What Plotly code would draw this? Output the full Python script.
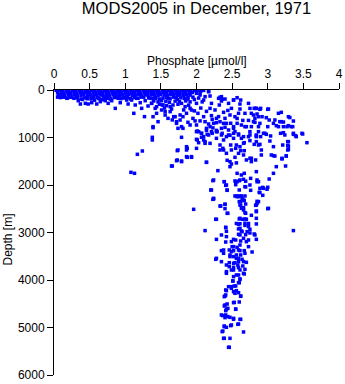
import plotly.graph_objects as go

# Phosphate (umol/l) vs depth (m) profile, MODS2005, December 1971.
# Each list holds (phosphate, depth) observations for one depth layer.

surface_row0 = [
    (0.03, 5), (0.08, 12), (0.12, 3), (0.17, 10), (0.21, 6), (0.26, 15), (0.30, 4),
    (0.35, 9), (0.39, 18), (0.44, 2), (0.48, 11), (0.53, 7), (0.57, 14), (0.62, 3),
    (0.66, 9), (0.71, 16), (0.75, 5), (0.80, 12), (0.84, 2), (0.89, 8), (0.93, 15),
    (0.98, 6), (1.02, 10), (1.07, 3), (1.11, 13), (1.16, 7), (1.20, 18), (1.25, 4),
    (1.29, 9), (1.34, 12), (1.38, 5), (1.43, 16), (1.47, 8), (1.52, 3), (1.56, 11),
    (1.61, 6), (1.65, 14), (1.70, 2), (1.74, 10), (1.79, 7), (1.83, 13), (1.88, 4),
    (1.92, 9), (1.97, 15), (2.01, 5), (2.06, 20), (2.10, 8), (2.17, 30),
]

surface_row1 = [
    (0.05, 55), (0.10, 48), (0.14, 62), (0.19, 50), (0.23, 58), (0.28, 45), (0.32, 66),
    (0.37, 52), (0.41, 60), (0.46, 47), (0.50, 64), (0.55, 55), (0.59, 50), (0.64, 68),
    (0.68, 53), (0.73, 46), (0.77, 61), (0.82, 57), (0.86, 49), (0.91, 65), (0.95, 52),
    (1.00, 60), (1.04, 48), (1.09, 63), (1.13, 54), (1.18, 50), (1.22, 67), (1.27, 56),
    (1.31, 46), (1.36, 62), (1.40, 51), (1.45, 58), (1.49, 64), (1.54, 49), (1.58, 55),
    (1.63, 61), (1.67, 47), (1.72, 66), (1.76, 52), (1.81, 58), (1.85, 45), (1.90, 63),
    (1.94, 54), (2.00, 70), (2.05, 60),
]

surface_row2 = [
    (0.06, 100), (0.11, 95), (0.15, 108), (0.20, 92), (0.24, 112), (0.29, 98), (0.33, 105),
    (0.38, 118), (0.42, 96), (0.47, 110), (0.51, 102), (0.56, 120), (0.60, 94), (0.65, 107),
    (0.69, 115), (0.74, 99), (0.78, 112), (0.83, 104), (0.87, 95), (0.92, 118), (0.96, 101),
    (1.01, 109), (1.05, 97), (1.10, 114), (1.14, 103), (1.19, 96), (1.23, 111), (1.28, 100),
    (1.32, 117), (1.37, 95), (1.41, 106), (1.46, 113), (1.50, 98), (1.55, 108), (1.59, 119),
    (1.64, 101), (1.68, 94), (1.73, 110), (1.77, 104), (1.82, 116), (1.86, 99), (1.91, 108),
]

surface_row3 = [
    (0.05, 150), (0.09, 160), (0.14, 145), (0.19, 168), (0.24, 152), (0.28, 175),
    (0.33, 158), (0.38, 190), (0.43, 165), (0.47, 185), (0.52, 150), (0.56, 178),
    (0.61, 160), (0.66, 195), (0.70, 155), (0.75, 172), (0.80, 188), (0.85, 160),
    (0.89, 150), (0.94, 182), (0.99, 165), (1.03, 155), (1.08, 190), (1.13, 160),
    (1.18, 175), (1.22, 150), (1.33, 165), (1.38, 180), (1.43, 155), (1.48, 190),
    (1.53, 170), (1.58, 160), (1.63, 185), (1.68, 150), (1.73, 200), (1.78, 165),
    (1.83, 180), (1.88, 155), (1.40, 230), (1.46, 250), (1.51, 225), (1.57, 240),
    (1.62, 260), (1.70, 235), (1.76, 245), (1.85, 230), (1.91, 250),
]

surface_row4 = [
    (0.08, 140), (0.13, 150), (0.18, 175), (0.22, 145), (0.25, 154), (0.31, 160),
    (0.34, 225), (0.37, 295), (0.40, 200), (0.44, 281), (0.46, 170), (0.48, 295),
    (0.52, 190), (0.53, 267), (0.57, 215), (0.60, 295), (0.63, 180), (0.65, 245),
    (0.68, 205), (0.72, 225), (0.74, 160), (0.76, 281), (0.79, 190), (0.81, 225),
    (0.86, 386), (0.88, 150), (0.90, 175), (0.93, 267), (0.97, 165), (1.02, 211),
    (1.04, 295), (1.07, 180), (1.09, 211), (1.14, 316), (1.16, 175), (1.21, 267),
    (1.23, 386), (1.26, 150), (1.28, 225), (1.32, 337), (1.35, 170), (1.37, 281),
    (1.42, 386), (1.44, 491), (1.12, 491), (1.27, 561), (1.39, 176), (1.42, 176),
    (1.48, 200), (1.52, 316), (1.53, 316), (1.56, 455), (1.60, 180), (1.63, 351),
    (1.67, 316), (1.68, 561), (1.72, 160), (1.77, 526), (1.79, 281), (1.84, 351),
    (1.88, 190), (1.93, 421), (1.95, 150), (2.00, 281), (2.05, 105), (2.10, 211),
    (2.12, 140), (2.17, 35), (2.21, 281), (2.19, 386), (1.97, 200), (2.03, 170),
    (2.08, 250), (1.48, 300), (1.58, 330), (1.74, 300), (1.89, 320),
]

upper_layer = [
    (2.31, 176), (2.35, 140), (2.35, 232), (2.40, 190), (2.32, 316), (2.45, 281),
    (2.52, 211), (2.57, 162), (2.62, 211), (2.49, 386), (2.61, 400), (2.73, 281),
    (2.75, 386), (2.84, 386), (2.68, 491), (2.80, 527), (2.87, 562), (2.47, 527),
    (2.54, 562), (2.59, 491), (2.40, 597), (2.33, 667), (2.42, 702), (2.28, 597),
    (2.21, 540), (2.24, 702), (2.19, 772), (2.12, 667), (2.14, 807), (2.10, 562),
    (2.02, 491), (1.95, 597), (1.91, 386), (1.86, 491), (1.81, 562), (1.77, 632),
    (1.72, 667), (1.70, 562), (1.63, 456), (1.60, 597), (1.56, 527), (1.51, 421),
    (1.44, 351), (1.39, 562), (1.46, 667), (1.37, 281), (1.74, 807), (1.81, 807),
    (1.91, 737), (2.00, 737), (2.03, 877), (2.07, 912), (2.28, 877), (2.35, 807),
    (2.45, 842), (2.52, 807), (2.63, 737), (2.70, 772), (2.80, 667), (2.75, 877),
    (2.54, 877), (2.36, 196), (2.33, 154), (2.19, 126), (2.52, 210), (2.61, 295),
    (2.77, 491), (2.81, 386), (2.90, 386), (3.01, 400), (3.15, 491), (3.19, 470),
    (3.29, 562), (3.31, 580), (2.82, 596), (2.92, 562), (2.98, 583), (3.10, 632),
    (3.17, 667), (3.22, 675), (3.36, 653), (2.82, 681), (2.77, 772), (2.87, 772),
    (3.12, 751), (3.22, 772), (3.29, 751), (3.35, 772), (3.00, 772), (2.89, 702),
    (3.08, 702), (3.19, 667), (3.02, 632), (2.85, 505), (3.00, 407), (2.89, 407),
    (2.83, 386), (1.39, 772), (1.72, 702), (1.79, 772), (1.66, 630), (1.98, 650),
    (2.17, 716), (2.28, 688), (2.38, 702), (2.40, 786), (2.52, 772), (2.57, 702),
    (2.68, 772), (1.55, 380), (1.65, 400), (1.82, 420), (1.97, 440), (2.06, 380),
    (2.14, 450), (2.26, 420), (2.38, 470), (2.44, 430), (2.57, 600), (2.65, 640),
    (2.22, 620), (2.31, 560), (2.05, 650), (1.88, 680), (2.48, 700), (2.73, 640),
]

mid_layer = [
    (1.39, 793), (1.38, 996), (1.38, 1052), (1.17, 1354), (1.24, 1284), (1.08, 1733),
    (1.13, 1754), (1.79, 996), (2.00, 877), (2.00, 1038), (2.03, 1109), (2.07, 912),
    (2.10, 982), (2.17, 947), (2.21, 877), (2.12, 1123), (2.19, 1123), (2.28, 1017),
    (2.35, 947), (2.38, 1052), (2.33, 1158), (2.38, 1263), (2.45, 947), (2.52, 1017),
    (2.59, 947), (2.63, 1017), (2.66, 1123), (2.56, 1158), (2.49, 1263), (2.61, 1193),
    (2.73, 982), (2.84, 968), (2.87, 1158), (2.75, 1438), (2.70, 1473), (2.77, 1508),
    (2.66, 1368), (2.59, 1333), (2.54, 1417), (2.47, 1508), (2.49, 1558), (2.43, 1480),
    (2.56, 1535), (1.86, 1263), (1.86, 1193), (1.74, 1263), (1.72, 1488), (1.79, 1508),
    (1.65, 1600), (1.86, 1403), (1.93, 1403), (2.14, 1522), (2.30, 1698), (2.24, 1894),
    (2.21, 2105), (2.39, 1930), (2.42, 2000), (2.57, 1754), (2.63, 1789), (2.55, 1930),
    (2.61, 1894), (2.66, 1880), (2.57, 1930), (2.68, 2035), (2.75, 2000), (2.84, 1719),
    (2.85, 1894), (2.89, 2070), (2.57, 2245), (2.63, 2230), (2.24, 2280), (2.43, 2105),
    (2.67, 1109), (2.67, 1277), (2.62, 1277), (2.55, 1228), (2.48, 1158), (2.37, 1228),
    (2.83, 1473), (2.47, 1614), (2.67, 1754), (2.76, 1860), (2.87, 1930), (2.94, 2070),
    (3.00, 2048), (2.89, 2161), (3.02, 1874), (3.08, 1754), (3.25, 1600), (3.20, 1452),
    (3.26, 1389), (3.12, 1614), (3.08, 1382), (3.28, 1087), (3.28, 1172), (3.28, 1263),
    (3.39, 961), (3.48, 912), (3.55, 1109), (3.36, 912), (3.22, 898), (3.27, 772),
    (3.33, 772), (3.15, 772), (2.94, 912), (2.98, 933), (2.84, 982), (2.90, 982),
    (3.18, 912), (3.24, 947), (3.36, 933), (3.40, 982), (3.49, 926), (3.03, 1074),
    (3.29, 1088), (2.81, 1144), (2.89, 1144), (3.08, 1193), (3.21, 1158), (3.29, 1180),
    (3.29, 1249), (2.91, 1263), (3.05, 1368), (3.10, 1390), (3.20, 1438), (3.26, 1389),
    (2.91, 1368), (2.77, 1438), (2.66, 982), (2.75, 947), (2.84, 947), (2.87, 877),
    (2.96, 912), (3.04, 968), (2.84, 1087), (2.75, 1066), (2.52, 912), (2.59, 926),
    (2.42, 982), (2.47, 954), (2.36, 912), (2.29, 877), (2.22, 912), (2.15, 933),
    (2.23, 797), (2.14, 850), (2.28, 850), (2.07, 996), (2.10, 1052), (2.12, 1087),
    (2.33, 1263), (2.42, 1333), (1.73, 1277), (1.73, 1473), (1.87, 1228), (1.87, 1417),
    (1.93, 1417), (1.79, 1495), (1.66, 1600), (2.14, 1523), (2.00, 1228), (2.01, 1052),
    (2.01, 863),
]

deep_layer = [
    (2.23, 1909), (2.39, 1930), (2.54, 1915), (2.60, 1910), (2.69, 1920), (2.85, 1930),
    (2.41, 2007), (2.55, 1993), (2.69, 2040), (2.93, 2050), (2.99, 2090), (2.20, 2105),
    (2.43, 2112), (2.60, 2105), (2.76, 2112), (2.88, 2154), (2.93, 2217), (2.56, 2231),
    (2.60, 2231), (2.68, 2231), (2.23, 2302), (2.64, 2287), (2.60, 2350), (2.67, 2330),
    (2.85, 2344), (2.85, 2386), (2.34, 2442), (2.40, 2407), (2.62, 2428), (2.69, 2400),
    (2.83, 2428), (1.96, 2512), (2.40, 2498), (3.00, 2498), (2.63, 2491), (2.66, 2526),
    (2.69, 2596), (2.43, 2596), (2.84, 2561), (2.77, 2638), (2.28, 2722), (2.60, 2715),
    (2.65, 2722), (2.70, 2722), (2.84, 2701), (2.84, 2820), (2.41, 2890), (2.56, 2810),
    (2.61, 2815), (2.68, 2805), (2.73, 2810), (2.12, 2960), (3.36, 2960), (2.42, 2975),
    (2.59, 2925), (2.63, 2968), (2.71, 2982), (2.75, 2933), (2.69, 3045), (2.59, 3038),
    (2.81, 3031), (2.35, 3052), (2.42, 3087), (2.52, 3144), (2.55, 3158), (2.66, 3122),
    (2.73, 3158), (2.84, 3144), (2.28, 3144), (2.41, 3200), (2.62, 3179), (2.70, 3193),
    (2.73, 3298), (2.50, 3298), (2.57, 3312), (2.35, 3382), (2.46, 3368), (2.52, 3382),
    (2.61, 3382), (2.67, 3382), (2.78, 3410), (2.38, 3438), (2.47, 3473), (2.56, 3473),
    (2.62, 3473), (2.27, 3565), (2.52, 3508), (2.59, 3544), (2.64, 3565), (2.35, 3614),
    (2.46, 3635), (2.54, 3635), (2.59, 3614), (2.70, 3628), (2.46, 3719), (2.52, 3733),
    (2.58, 3684), (2.65, 3705), (2.42, 3824), (2.52, 3789), (2.61, 3789), (2.68, 3775),
    (2.56, 3894), (2.67, 3873), (2.61, 3986), (2.51, 4021), (2.59, 4056), (2.53, 4126),
    (2.45, 4140), (2.49, 4175), (2.42, 4224), (2.56, 4224), (2.54, 4280), (2.41, 4315),
    (2.62, 4343), (2.39, 4350), (2.53, 4470), (2.60, 4463), (2.40, 4526), (2.44, 4596),
    (2.41, 4645), (2.55, 4610), (2.35, 4736), (2.41, 4736), (2.44, 4771), (2.40, 4792),
    (2.52, 4807), (2.62, 4828), (2.58, 4933), (2.39, 4982), (2.42, 4996), (2.36, 5087),
    (2.48, 4961), (2.66, 5094), (2.38, 5228), (2.47, 5228), (2.45, 5417),
    (2.54, 2231), (2.59, 2245), (2.66, 2315), (2.62, 2350), (2.87, 2350), (2.24, 2294),
    (2.40, 2406), (2.33, 2442), (2.61, 2420), (2.66, 2477), (2.84, 2420), (3.01, 2491),
    (2.44, 2596), (2.84, 2547), (2.68, 2580), (2.61, 2701), (2.68, 2715), (2.27, 2722),
    (2.59, 2828), (2.68, 2850), (2.73, 2877), (2.41, 2898), (2.61, 2912), (2.64, 2982),
    (2.75, 3010), (2.82, 3052), (2.61, 3052), (2.49, 3192), (2.61, 3263), (2.52, 3298),
    (2.38, 3368), (2.49, 3403), (2.59, 3368), (2.68, 3438), (2.47, 3508), (2.28, 3543),
    (2.56, 3543), (2.66, 3613), (2.42, 3684), (2.52, 3648), (2.49, 3789), (2.59, 3740),
    (2.42, 3859), (2.66, 3859), (2.52, 3929), (2.59, 3894), (2.51, 4020), (2.61, 3978),
    (2.60, 4056), (2.49, 4140), (2.55, 4126), (2.41, 4210), (2.52, 4246), (2.59, 4267),
    (2.62, 4337), (2.40, 4337), (2.52, 4477), (2.43, 4505), (2.39, 4547), (2.42, 4617),
    (2.55, 4617), (2.37, 4750), (2.47, 4786), (2.52, 4828), (2.61, 4828), (2.39, 4968),
    (2.49, 4947), (2.59, 4926), (2.37, 5074), (2.39, 5228), (2.46, 5417),
]

layers = [surface_row0, surface_row1, surface_row2, surface_row3, surface_row4,
          upper_layer, mid_layer, deep_layer]
phosphate = [p for layer in layers for p, _ in layer]
depth = [d for layer in layers for _, d in layer]

FONT = "Liberation Sans, Arial, sans-serif"

fig = go.Figure(go.Scatter(
    x=phosphate, y=depth, mode="markers",
    marker=dict(symbol="square", size=3.5, color="#0000ff", line=dict(width=0)),
    hoverinfo="skip", showlegend=False,
))

axis_common = dict(
    showline=True, linecolor="black", linewidth=1,
    ticks="outside", ticklen=6, tickcolor="black", tickwidth=1,
    showgrid=False, zeroline=False, automargin=False,
    tickfont=dict(family=FONT, size=12, color="black"),
)

fig.update_layout(
    width=345, height=384,
    margin=dict(l=54, r=6, t=90, b=9, autoexpand=False),
    paper_bgcolor="white", plot_bgcolor="white",
    title=dict(text="MODS2005 in December, 1971", x=0.5, xref="paper",
               y=1 - 8 / 384, yref="container", yanchor="middle",
               font=dict(family=FONT, size=16.5, color="black")),
    xaxis=dict(side="top", range=[0, 4], dtick=0.5, tick0=0, **axis_common),
    yaxis=dict(range=[6000, 0], dtick=1000, tick0=0, **axis_common),
    annotations=[
        dict(text="Phosphate [\u00b5mol/l]", x=0.5, y=1 + 29 / 285, xref="paper", yref="paper",
             xanchor="center", yanchor="middle", showarrow=False,
             font=dict(family=FONT, size=12, color="black")),
        dict(text="Depth [m]", x=-46.5 / 285, y=135 / 285, xref="paper", yref="paper",
             xanchor="center", yanchor="middle", textangle=-90, showarrow=False,
             font=dict(family=FONT, size=12, color="black")),
    ],
)

fig.write_html("out.html")
